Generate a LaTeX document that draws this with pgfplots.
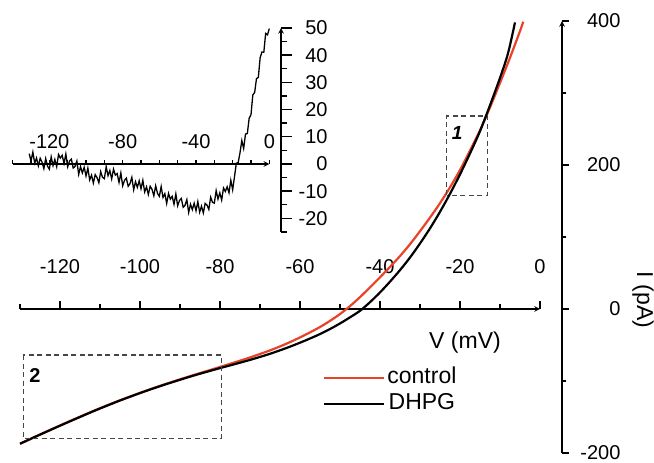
\documentclass[border=0pt]{standalone}
\usepackage{fontspec}
\setmainfont{Liberation Sans}
\usepackage{pgfplots}
\pgfplotsset{compat=1.18}
\definecolor{ctrlred}{RGB}{232,66,40}
\definecolor{boxgray}{RGB}{70,70,70}

\pgfplotsset{
  ivaxis/.style={
    /pgf/number format/assume math mode=true,
    clip=false,
    axis line style={-, line width=1.5pt},
    tick style={line width=1.4pt, black},
    tick label style={font=\fontsize{20}{23}\selectfont},
  },
}

\begin{document}
\begin{tikzpicture}
\useasboundingbox (-20pt,-10pt) rectangle (634pt,453pt);

% main plot: y axis
\begin{axis}[ivaxis, at={(0pt,0pt)}, anchor=south west,
  x=4pt, y=0.72pt, xmin=-130, xmax=5.5, ymin=-200, ymax=400,
  axis x line=none, axis y line=right,
  ytick={-200,0,200,400}, minor ytick={-100,100,300},
  ytick align=outside, major tick length=7pt, minor tick length=4pt,
  yticklabel style={anchor=east, xshift=55pt},
]
\end{axis}

% main plot: curves and x axis
\begin{axis}[ivaxis, at={(0pt,0pt)}, anchor=south west,
  x=4pt, y=0.72pt, xmin=-130, xmax=0, ymin=-200, ymax=400,
  axis x line=middle, axis y line=none,
  hide obscured x ticks=false,
  xtick={-120,-100,-80,-60,-40,-20,0}, minor xtick={-130,-110,-90,-70,-50,-30,-10},
  xtick align=inside, major tick length=8pt, minor tick length=5pt,
  xticklabel style={anchor=base, yshift=35pt},
  legend style={at={(axis cs:-54.25,-77)}, anchor=north west, draw=none, fill=none,
    font=\fontsize{23}{27}\selectfont, row sep=0pt, inner sep=0pt,
    nodes={inner sep=2pt, text height=17pt, text depth=5pt}},
  legend image code/.code={\draw[#1] (0pt,0pt) -- (60pt,0pt);},
]
% control
\addplot[ctrlred, line width=2.2pt, smooth] coordinates {
(-130,-187.5) (-127.5,-180.7) (-125,-174.3) (-122.5,-168.0) (-120,-161.8) (-117.5,-155.6)
(-115,-149.6) (-112.5,-143.6) (-110,-137.8) (-107.5,-132.2) (-105,-126.8) (-102.5,-121.6)
(-100,-116.5) (-97.5,-111.6) (-95,-106.8) (-92.5,-102.2) (-90,-97.7) (-87.5,-93.3)
(-85,-89) (-82.5,-84.8) (-80,-80.5) (-77.5,-76.2) (-75,-71.8) (-72.5,-67.3)
(-70,-62.5) (-67.5,-57.5) (-65,-52) (-62.5,-46) (-60,-39.5) (-57.5,-32.5)
(-55,-25) (-52.5,-16.5) (-50,-7) (-47.5,4) (-45,16.5) (-42.5,30)
(-40,44) (-37.5,58.5) (-35,73.5) (-32.5,90) (-30,108) (-27.5,127)
(-25,147) (-22.5,169) (-20,193) (-17.5,220) (-15,248) (-12.5,280)
(-10,314) (-7.5,349) (-5,386) (-4.2,399)};
\addlegendentry{control}
% DHPG
\addplot[black, line width=2.2pt, smooth] coordinates {
(-130,-187) (-127.5,-180.8) (-125,-174.5) (-122.5,-168.3) (-120,-162.1) (-117.5,-156.0)
(-115,-150.0) (-112.5,-144.0) (-110,-138.2) (-107.5,-132.6) (-105,-127.1) (-102.5,-121.9)
(-100,-116.8) (-97.5,-111.9) (-95,-107.2) (-92.5,-102.7) (-90,-98.3) (-87.5,-94.0)
(-85,-89.9) (-82.5,-86.0) (-80,-82.1) (-77.5,-78.4) (-75,-74.6) (-72.5,-70.7)
(-70,-66.6) (-67.5,-62.2) (-65,-57.4) (-62.5,-52.3) (-60,-46.8) (-57.5,-41.0)
(-55,-34.8) (-52.5,-27.8) (-50,-20.1) (-47.5,-11.6) (-45,-2.5) (-42.5,9.5)
(-40,23) (-37.5,38) (-35,54) (-32.5,71.5) (-30,91) (-27.5,112)
(-25,135) (-22.5,160) (-20,187) (-17.5,216) (-15,247) (-12.5,283)
(-10,321) (-8,355) (-6.25,398)};
\addlegendentry{DHPG}
% zoom boxes
\draw[boxgray, dash pattern=on 5pt off 3.5pt, line width=1.2pt]
  (axis cs:-23.3,158) rectangle (axis cs:-13.2,268);
\draw[boxgray, dash pattern=on 5pt off 3.5pt, line width=1.2pt]
  (axis cs:-129.2,-64) rectangle (axis cs:-79.6,-179.6);
\node[font=\bfseries\itshape\fontsize{19}{21}\selectfont] at (axis cs:-20.7,244) {1};
\node[font=\bfseries\fontsize{20}{22}\selectfont] at (axis cs:-126.25,-91.7) {2};
\node[font=\fontsize{23}{27}\selectfont] at (axis cs:-18.75,-47) {V (mV)};
\node[rotate=-90, font=\fontsize{23}{27}\selectfont] at (axis cs:25.75,12.5) {I (pA)};
\end{axis}

% inset: y axis
\begin{axis}[ivaxis, at={(-7.3pt,221pt)}, anchor=south west,
  x=1.833pt, y=2.72pt, xmin=-140, xmax=6.4, ymin=-25, ymax=50,
  axis x line=none, axis y line=right,
  ytick={-20,-10,0,10,20,30,40,50}, minor ytick={-25,-15,-5,5,15,25,35,45},
  ytick align=outside, major tick length=11pt, minor tick length=6pt,
  yticklabel style={anchor=east, xshift=39pt},
]
\end{axis}

% inset: difference trace and x axis
\begin{axis}[ivaxis, at={(-7.3pt,221pt)}, anchor=south west,
  x=1.833pt, y=2.72pt, xmin=-140, xmax=0, ymin=-25, ymax=50,
  axis x line=middle, axis y line=none,
  hide obscured x ticks=false,
  xtick={-120,-80,-40,0},
  minor xtick={-140,-130,-110,-100,-90,-70,-60,-50,-30,-20,-10},
  xtick align=inside, major tick length=4pt, minor tick length=4pt,
  xticklabel style={anchor=base, yshift=15pt},
]
\addplot[black, line width=1.3pt] coordinates {
(-131,3.8) (-130,1.1) (-129,4.4) (-128,0.3) (-127,2.2) (-126,-0.7) (-125,2.1) (-124,0.7)
(-123,-1.7) (-122,2.0) (-121,-0.8) (-120,-1.9) (-119,2.6) (-118,-0.6) (-117,1.7) (-116,-1.0)
(-115,3.5) (-114,2.2) (-113,3.2) (-112,0.2) (-111,3.7) (-110,-1.0) (-109,1.1) (-108,1.8)
(-107,-1.5) (-106,-0.9) (-105,1.1) (-104,-3.8) (-103,-1.0) (-102,-3.3) (-101,-1.2) (-100,-4.4)
(-99,-1.5) (-98,-5.9) (-97,-4.1) (-96,-7.0) (-95,-3.9) (-94,-5.0) (-93,-6.9) (-92,-2.8)
(-91,-4.9) (-90,-5.4) (-89,-1.0) (-88,-4.3) (-87,-2.4) (-86,-5.5) (-85,-1.9) (-84,-4.1)
(-83,-3.5) (-82,-6.8) (-81,-3.3) (-80,-8.0) (-79,-6.0) (-78,-5.2) (-77,-8.2) (-76,-7.2)
(-75,-4.9) (-74,-9.5) (-73,-6.5) (-72,-8.6) (-71,-6.2) (-70,-9.1) (-69,-6.0) (-68,-10.3)
(-67,-8.4) (-66,-11.2) (-65,-8.2) (-64,-9.3) (-63,-11.7) (-62,-8.0) (-61,-10.8) (-60,-11.9)
(-59,-8.3) (-58,-12.3) (-57,-10.9) (-56,-14.5) (-55,-10.8) (-54,-12.9) (-53,-11.9) (-52,-14.8)
(-51,-11.0) (-50,-15.4) (-49,-13.4) (-48,-12.7) (-47,-15.9) (-46,-15.2) (-45,-13.1) (-44,-17.8)
(-43,-14.8) (-42,-16.8) (-41,-14.4) (-40,-17.2) (-39,-13.8) (-38,-17.7) (-37,-15.5) (-36,-18.0)
(-35,-14.5) (-34,-15.1) (-33,-16.7) (-32,-12.2) (-31,-14.1) (-30,-14.4) (-29,-9.8) (-28,-12.9)
(-27,-10.6) (-26,-13.3) (-25,-8.8) (-24,-10.1) (-23,-8.4) (-22,-10.6) (-21,-6.0) (-20,-9.5)
(-19,-4.7) (-18,0.3) (-17,0.5) (-16,4.1) (-15,8.6) (-14,5.7) (-13,11.0) (-12,11.2)
(-11,16.8) (-10,18.1) (-9,25.4) (-8,26.3) (-7,31.4) (-6,31.8) (-5,39.1) (-4,41.2)
(-3,41.1) (-2,48.0) (-1,47.5) (0,49.8)};
\end{axis}
\end{tikzpicture}
\end{document}
